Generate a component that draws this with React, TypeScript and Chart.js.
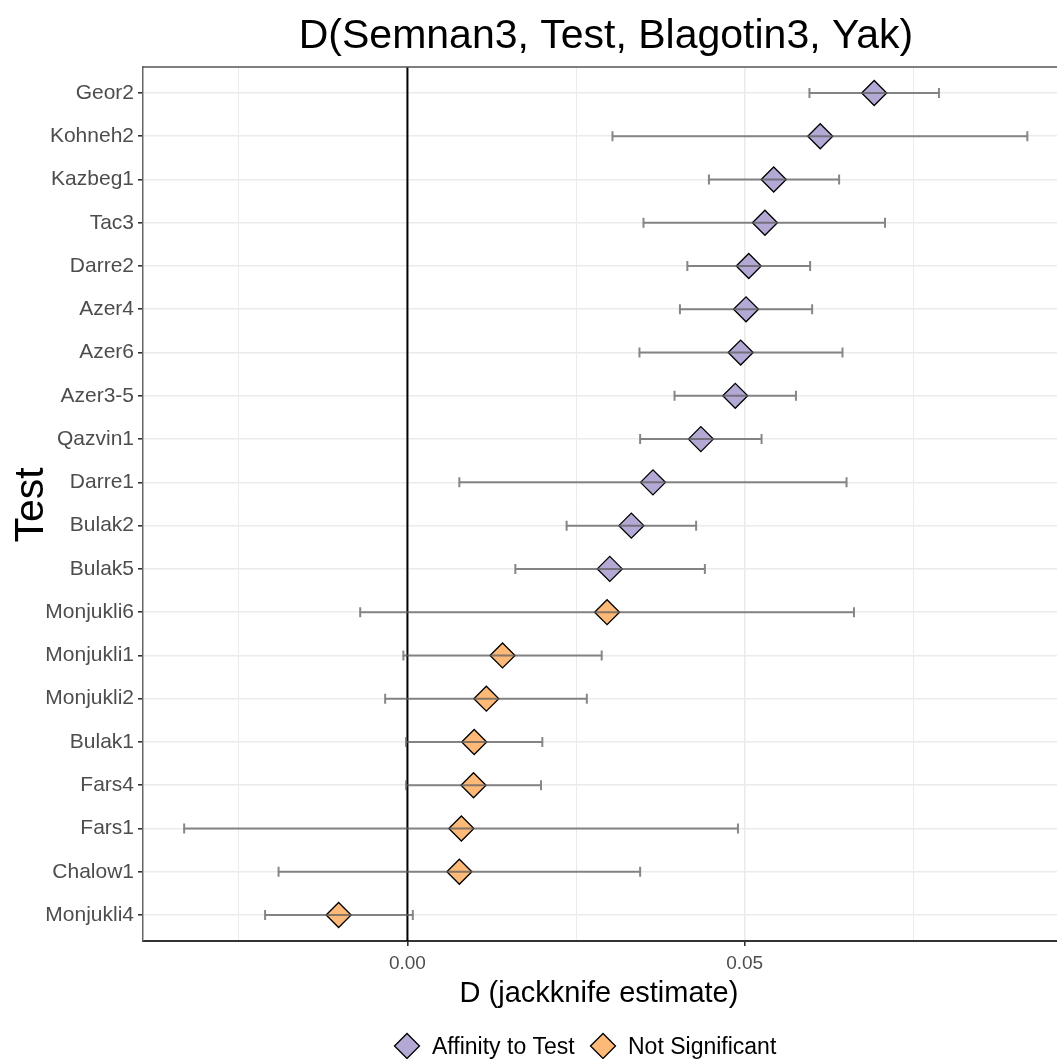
import React, { useEffect, useRef } from "react";
import { Chart, registerables } from "chart.js";

Chart.register(...registerables);

const testLabels = [
  "Geor2", "Kohneh2", "Kazbeg1", "Tac3", "Darre2", "Azer4", "Azer6", "Azer3-5",
  "Qazvin1", "Darre1", "Bulak2", "Bulak5", "Monjukli6", "Monjukli1", "Monjukli2",
  "Bulak1", "Fars4", "Fars1", "Chalow1", "Monjukli4",
];
const estimates = [
  0.0692, 0.0612, 0.0543, 0.053, 0.0506, 0.0502, 0.0494, 0.0486, 0.0435, 0.0364,
  0.0332, 0.03, 0.0296, 0.0141, 0.0117, 0.0099, 0.0098, 0.008, 0.0077, -0.0102,
];
const lowerCI = [
  0.0596, 0.0304, 0.0447, 0.035, 0.0415, 0.0404, 0.0344, 0.0396, 0.0345, 0.0077,
  0.0236, 0.016, -0.007, -0.0006, -0.0033, -0.0002, -0.0002, -0.0331, -0.0191, -0.0211,
];
const upperCI = [
  0.0788, 0.0919, 0.064, 0.0708, 0.0597, 0.06, 0.0645, 0.0576, 0.0525, 0.0651,
  0.0428, 0.0441, 0.0662, 0.0288, 0.0266, 0.02, 0.0198, 0.049, 0.0345, 0.0008,
];
const significance = [
  "Affinity to Test", "Affinity to Test", "Affinity to Test", "Affinity to Test",
  "Affinity to Test", "Affinity to Test", "Affinity to Test", "Affinity to Test",
  "Affinity to Test", "Affinity to Test", "Affinity to Test", "Affinity to Test",
  "Not Significant", "Not Significant", "Not Significant", "Not Significant",
  "Not Significant", "Not Significant", "Not Significant", "Not Significant",
];
const groups = ["Affinity to Test", "Not Significant"];
const groupColors = ["#b4a8d4", "#fdb978"];
const xTickValues = [-0.025, 0, 0.025, 0.05, 0.075];
const xTickLabels = ["", "0.00", "", "0.05", ""];
const titleText = "D(Semnan3, Test, Blagotin3, Yak)";
const xTitle = "D (jackknife estimate)";
const yTitle = "Test";

const FONT = '"Liberation Sans", Arial, Helvetica, sans-serif';

export default function App() {
  const ref = useRef<HTMLCanvasElement | null>(null);

  useEffect(() => {
    const canvas = ref.current;
    if (!canvas) return;

    const datasets = groups.map((g, gi) => ({
      label: g,
      data: estimates
        .map((v, i) => ({ x: v, y: i, s: significance[i] }))
        .filter((d) => d.s === g)
        .map((d) => ({ x: d.x, y: d.y })),
      backgroundColor: groupColors[gi],
      borderColor: "#000000",
      borderWidth: 1.3,
      pointStyle: "rectRot",
      pointRadius: 12.5,
      pointHoverRadius: 12.5,
    }));

    const decor = {
      id: "decor",
      beforeDatasetsDraw(chart: any) {
        const { ctx, chartArea, scales } = chart;
        const x0 = scales.x.getPixelForValue(0);
        ctx.save();
        ctx.strokeStyle = "#000000";
        ctx.lineWidth = 2;
        ctx.beginPath();
        ctx.moveTo(x0, chartArea.top);
        ctx.lineTo(x0, chartArea.bottom);
        ctx.stroke();
        ctx.restore();
      },
      afterDatasetsDraw(chart: any) {
        const { ctx, scales } = chart;
        ctx.save();
        ctx.strokeStyle = "rgba(95,95,95,0.75)";
        ctx.lineWidth = 2;
        for (let i = 0; i < testLabels.length; i++) {
          const y = scales.y.getPixelForValue(i);
          const xa = scales.x.getPixelForValue(lowerCI[i]);
          const xb = scales.x.getPixelForValue(upperCI[i]);
          ctx.beginPath();
          ctx.moveTo(xa, y);
          ctx.lineTo(xb, y);
          ctx.moveTo(xa, y - 5);
          ctx.lineTo(xa, y + 5);
          ctx.moveTo(xb, y - 5);
          ctx.lineTo(xb, y + 5);
          ctx.stroke();
        }
        ctx.restore();
      },
      afterDraw(chart: any) {
        const { ctx, chartArea } = chart;
        ctx.save();
        // top border
        ctx.strokeStyle = "#555555";
        ctx.lineWidth = 1.5;
        ctx.beginPath();
        ctx.moveTo(chartArea.left, chartArea.top);
        ctx.lineTo(chartArea.right, chartArea.top);
        ctx.stroke();

        // title
        ctx.fillStyle = "#000000";
        ctx.font = `41px ${FONT}`;
        ctx.textAlign = "center";
        ctx.textBaseline = "alphabetic";
        ctx.fillText(titleText, 606, 48);

        // x title
        ctx.font = `29px ${FONT}`;
        ctx.fillText(xTitle, 599, 1002);

        // y title
        ctx.save();
        ctx.translate(43, 505);
        ctx.rotate(-Math.PI / 2);
        ctx.font = `41px ${FONT}`;
        ctx.fillText(yTitle, 0, 0);
        ctx.restore();

        // legend
        ctx.font = `23px ${FONT}`;
        ctx.textAlign = "left";
        const legendX = [407, 603];
        const legendY = 1046;
        groups.forEach((g, gi) => {
          const cx = legendX[gi];
          const r = 12.5;
          ctx.beginPath();
          ctx.moveTo(cx - r, legendY);
          ctx.lineTo(cx, legendY - r);
          ctx.lineTo(cx + r, legendY);
          ctx.lineTo(cx, legendY + r);
          ctx.closePath();
          ctx.fillStyle = groupColors[gi];
          ctx.fill();
          ctx.strokeStyle = "#000000";
          ctx.lineWidth = 1.3;
          ctx.stroke();
          ctx.fillStyle = "#000000";
          ctx.fillText(g, cx + 25, 1054);
        });
        ctx.restore();
      },
    };

    const chart = new Chart(canvas, {
      type: "scatter",
      data: { datasets: datasets as any },
      options: {
        animation: false,
        responsive: false,
        maintainAspectRatio: false,
        layout: { autoPadding: false, padding: { top: 67, left: 0, right: 0, bottom: 0 } },
        plugins: {
          legend: { display: false },
          title: { display: false },
          tooltip: { enabled: false },
        },
        scales: {
          x: {
            type: "linear",
            min: -0.0392,
            max: 0.0963,
            afterBuildTicks: (scale: any) => {
              scale.ticks = xTickValues.map((v) => ({ value: v }));
            },
            afterFit: (scale: any) => {
              scale.height = 118;
              scale.paddingLeft = 0;
              scale.paddingRight = 0;
            },
            ticks: {
              autoSkip: false,
              maxRotation: 0,
              padding: 6,
              color: "#4d4d4d",
              font: { family: FONT, size: 19 },
              callback: (value: any) => {
                const idx = xTickValues.findIndex((v) => Math.abs(v - Number(value)) < 1e-9);
                return idx >= 0 ? xTickLabels[idx] : "";
              },
            },
            grid: {
              color: "#ebebeb",
              lineWidth: (ctx: any) => {
                const v = ctx.tick ? ctx.tick.value : 0;
                const idx = xTickValues.findIndex((t) => Math.abs(t - v) < 1e-9);
                return idx >= 0 && xTickLabels[idx] !== "" ? 1.6 : 1;
              },
              tickLength: 5,
              tickColor: (ctx: any) => {
                const v = ctx.tick ? ctx.tick.value : 0;
                const idx = xTickValues.findIndex((t) => Math.abs(t - v) < 1e-9);
                return idx >= 0 && xTickLabels[idx] !== "" ? "#333333" : "rgba(0,0,0,0)";
              },
            },
            border: { display: true, color: "#333333", width: 2 },
          },
          y: {
            type: "linear",
            reverse: true,
            min: -0.6,
            max: testLabels.length - 1 + 0.6,
            afterBuildTicks: (scale: any) => {
              scale.ticks = testLabels.map((_, i) => ({ value: i }));
            },
            afterFit: (scale: any) => {
              scale.width = 143;
              scale.paddingTop = 0;
              scale.paddingBottom = 0;
            },
            ticks: {
              autoSkip: false,
              padding: 4,
              color: "#4d4d4d",
              font: { family: FONT, size: 21 },
              callback: (value: any) => testLabels[Number(value)] ?? "",
            },
            grid: {
              color: "#ebebeb",
              lineWidth: 1.6,
              tickLength: 5,
              tickColor: "#333333",
            },
            border: { display: true, color: "#666666", width: 1.5 },
          },
        },
      },
      plugins: [decor],
    });

    return () => chart.destroy();
  }, []);

  return (
    <div style={{ position: "absolute", left: 0, top: 0, width: 1057, height: 1059, background: "#ffffff" }}>
      <canvas ref={ref} width={1057} height={1059} style={{ width: 1057, height: 1059, display: "block" }} />
    </div>
  );
}
